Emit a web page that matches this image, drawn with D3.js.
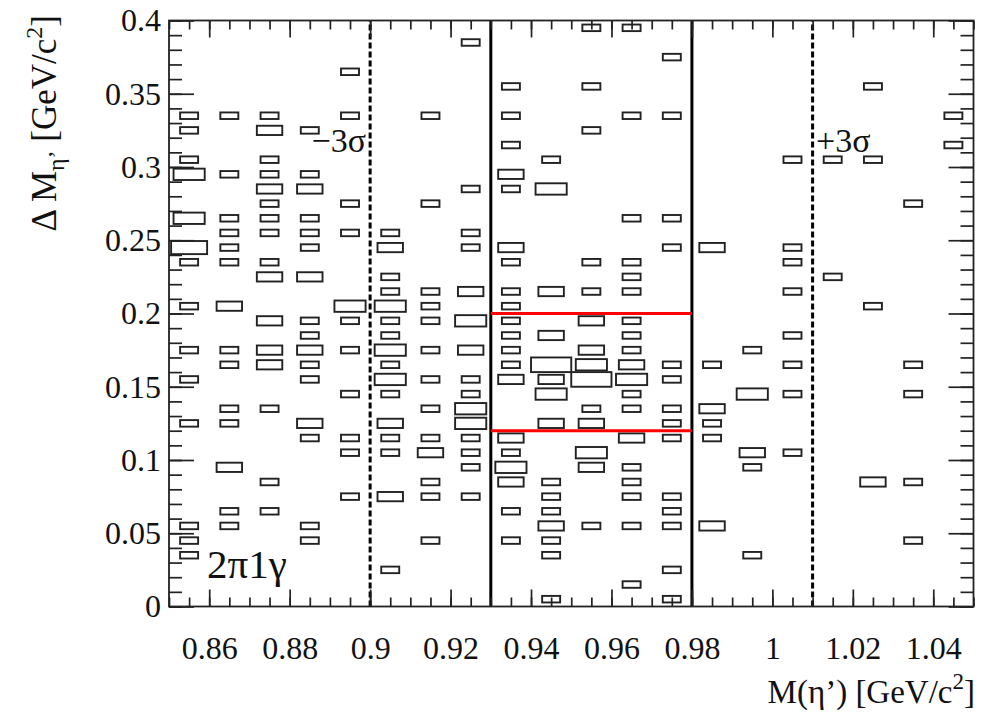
<!DOCTYPE html>
<html>
<head>
<meta charset="utf-8">
<script src="https://cdn.jsdelivr.net/npm/d3@7"></script>
<style>
  body { margin: 0; background: #fff; }
  text { font-family: "Liberation Serif", "Times New Roman", Times, "DejaVu Serif", serif; fill: #111; }
</style>
</head>
<body>
<svg width="992" height="716"></svg>
<script>
// bin contents, [x bin low edge, y bin low edge, entries]
var leftSideband = [
  [0.85,0.33,1],[0.85,0.32,1],[0.85,0.30,1],[0.85,0.29,3],[0.85,0.26,3],[0.85,0.24,4],[0.85,0.23,1],[0.85,0.20,1],[0.85,0.17,1],[0.85,0.15,1],[0.85,0.12,1],[0.85,0.05,1],[0.85,0.04,1],[0.85,0.03,1],
  [0.86,0.33,1],[0.86,0.29,1],[0.86,0.26,1],[0.86,0.25,1],[0.86,0.24,1],[0.86,0.23,1],[0.86,0.20,2],[0.86,0.17,1],[0.86,0.16,1],[0.86,0.13,1],[0.86,0.12,1],[0.86,0.09,2],[0.86,0.06,1],[0.86,0.05,1],
  [0.87,0.33,1],[0.87,0.32,2],[0.87,0.30,1],[0.87,0.29,1],[0.87,0.28,2],[0.87,0.27,1],[0.87,0.26,1],[0.87,0.25,1],[0.87,0.23,1],[0.87,0.22,2],[0.87,0.19,2],[0.87,0.17,2],[0.87,0.16,2],[0.87,0.13,1],[0.87,0.08,1],[0.87,0.06,1],
  [0.88,0.32,1],[0.88,0.29,1],[0.88,0.28,2],[0.88,0.26,1],[0.88,0.25,1],[0.88,0.24,1],[0.88,0.22,2],[0.88,0.19,1],[0.88,0.18,1],[0.88,0.17,2],[0.88,0.16,1],[0.88,0.15,1],[0.88,0.12,2],[0.88,0.11,1],[0.88,0.05,1],[0.88,0.04,1],
  [0.89,0.36,1],[0.89,0.33,1],[0.89,0.27,1],[0.89,0.25,1],[0.89,0.20,3],[0.89,0.19,1],[0.89,0.17,1],[0.89,0.14,1],[0.89,0.11,1],[0.89,0.10,1],[0.89,0.07,1],
  [0.90,0.25,1],[0.90,0.24,2],[0.90,0.22,1],[0.90,0.21,1],[0.90,0.20,3],[0.90,0.19,1],[0.90,0.18,1],[0.90,0.17,3],[0.90,0.16,1],[0.90,0.15,3],[0.90,0.14,1],[0.90,0.12,2],[0.90,0.11,1],[0.90,0.10,1],[0.90,0.07,2],[0.90,0.02,1],
  [0.91,0.33,1],[0.91,0.27,1],[0.91,0.21,1],[0.91,0.20,1],[0.91,0.19,1],[0.91,0.17,1],[0.91,0.15,1],[0.91,0.13,1],[0.91,0.11,1],[0.91,0.10,2],[0.91,0.08,1],[0.91,0.07,1],[0.91,0.04,1],
  [0.92,0.38,1],[0.92,0.28,1],[0.92,0.25,1],[0.92,0.24,1],[0.92,0.21,2],[0.92,0.19,3],[0.92,0.17,2],[0.92,0.15,1],[0.92,0.14,1],[0.92,0.13,3],[0.92,0.12,3],[0.92,0.11,1],[0.92,0.10,1],[0.92,0.09,1],[0.92,0.07,1]
];
var signalRegion = [
  [0.93,0.35,1],[0.93,0.33,1],[0.93,0.31,1],[0.93,0.29,2],[0.93,0.28,1],[0.93,0.24,2],[0.93,0.23,1],[0.93,0.21,1],[0.93,0.20,1],[0.93,0.19,1],[0.93,0.18,1],[0.93,0.17,1],[0.93,0.16,1],[0.93,0.15,2],[0.93,0.11,2],[0.93,0.10,1],[0.93,0.09,3],[0.93,0.08,2],[0.93,0.06,1],[0.93,0.04,1],
  [0.94,0.30,1],[0.94,0.28,3],[0.94,0.21,2],[0.94,0.18,2],[0.94,0.16,5],[0.94,0.15,2],[0.94,0.14,3],[0.94,0.12,2],[0.94,0.08,1],[0.94,0.07,1],[0.94,0.06,1],[0.94,0.05,2],[0.94,0.04,1],[0.94,0.03,1],[0.94,0.00,1],
  [0.95,0.39,1],[0.95,0.35,1],[0.95,0.32,1],[0.95,0.23,1],[0.95,0.21,1],[0.95,0.19,2],[0.95,0.17,2],[0.95,0.16,3],[0.95,0.15,5],[0.95,0.13,1],[0.95,0.12,2],[0.95,0.10,3],[0.95,0.09,2],[0.95,0.05,1],
  [0.96,0.39,1],[0.96,0.33,1],[0.96,0.26,1],[0.96,0.23,1],[0.96,0.22,1],[0.96,0.21,1],[0.96,0.19,1],[0.96,0.18,1],[0.96,0.17,1],[0.96,0.16,2],[0.96,0.15,3],[0.96,0.14,1],[0.96,0.13,1],[0.96,0.11,2],[0.96,0.09,1],[0.96,0.08,1],[0.96,0.07,1],[0.96,0.05,1],[0.96,0.01,1],
  [0.97,0.37,1],[0.97,0.33,1],[0.97,0.26,1],[0.97,0.24,1],[0.97,0.16,1],[0.97,0.15,1],[0.97,0.13,1],[0.97,0.12,1],[0.97,0.11,1],[0.97,0.07,1],[0.97,0.06,1],[0.97,0.05,1],[0.97,0.02,1],[0.97,0.00,1]
];
var rightSideband = [
  [0.98,0.24,2],[0.98,0.16,1],[0.98,0.13,2],[0.98,0.12,1],[0.98,0.11,1],[0.98,0.05,2],
  [0.99,0.17,1],[0.99,0.14,3],[0.99,0.10,2],[0.99,0.09,1],[0.99,0.03,1],
  [1.00,0.30,1],[1.00,0.24,1],[1.00,0.23,1],[1.00,0.21,1],[1.00,0.18,1],[1.00,0.16,1],[1.00,0.14,1],[1.00,0.10,1],
  [1.01,0.30,1],[1.01,0.22,1],
  [1.02,0.35,1],[1.02,0.30,1],[1.02,0.20,1],[1.02,0.08,2],
  [1.03,0.27,1],[1.03,0.16,1],[1.03,0.14,1],[1.03,0.08,1],[1.03,0.04,1],
  [1.04,0.33,1],[1.04,0.31,1]
];
var binW = 0.01, binH = 0.01;

var xTicks = [0.86, 0.88, 0.90, 0.92, 0.94, 0.96, 0.98, 1.00, 1.02, 1.04];
var xTickLabels = ["0.86", "0.88", "0.9", "0.92", "0.94", "0.96", "0.98", "1", "1.02", "1.04"];
var yTicks = [0, 0.05, 0.10, 0.15, 0.20, 0.25, 0.30, 0.35, 0.40];
var yTickLabels = ["0", "0.05", "0.1", "0.15", "0.2", "0.25", "0.3", "0.35", "0.4"];

var sigmaCuts = [0.90, 1.01];     // dashed, -3 sigma / +3 sigma
var signalCuts = [0.93, 0.98];    // solid
var dmCuts = [0.12, 0.20];        // red

var svg = d3.select("svg"),
    frame = {left: 169, right: 973.5, top: 20.5, bottom: 606.5};

var x = d3.scaleLinear().domain([0.85, 1.05]).range([frame.left, frame.right]),
    y = d3.scaleLinear().domain([0, 0.4]).range([frame.bottom, frame.top]);

var cells = leftSideband.concat(signalRegion, rightSideband);
var zmax = d3.max(cells, function(d) { return d[2]; });

// boxes (ROOT "box" option), side ~ sqrt(content/max)
svg.append("g").selectAll("rect")
  .data(cells)
  .enter().append("rect")
    .each(function(d) {
      var f = Math.sqrt(d[2] / zmax),
          w = (x(d[0] + binW) - x(d[0])) * f,
          h = (y(d[1]) - y(d[1] + binH)) * f;
      d3.select(this)
        .attr("x", x(d[0] + binW / 2) - w / 2)
        .attr("y", y(d[1] + binH / 2) - h / 2)
        .attr("width", w)
        .attr("height", h);
    })
    .attr("fill", "none")
    .attr("stroke", "#222")
    .attr("stroke-width", 1.9);

// cut lines
svg.append("g").selectAll("line")
  .data(sigmaCuts)
  .enter().append("line")
    .attr("x1", function(d) { return x(d); })
    .attr("x2", function(d) { return x(d); })
    .attr("y1", y(0)).attr("y2", y(0.4))
    .attr("stroke", "#000").attr("stroke-width", 3)
    .attr("stroke-dasharray", "6,3");

svg.append("g").selectAll("line")
  .data(signalCuts)
  .enter().append("line")
    .attr("x1", function(d) { return x(d); })
    .attr("x2", function(d) { return x(d); })
    .attr("y1", y(0)).attr("y2", y(0.4))
    .attr("stroke", "#000").attr("stroke-width", 3);

svg.append("g").selectAll("line")
  .data(dmCuts)
  .enter().append("line")
    .attr("x1", x(signalCuts[0])).attr("x2", x(signalCuts[1]))
    .attr("y1", function(d) { return y(d); })
    .attr("y2", function(d) { return y(d); })
    .attr("stroke", "#ff0000").attr("stroke-width", 3);

// axes, ticks inside the frame
var xMinor = d3.range(0.85, 1.0501, 0.005),
    yMinor = d3.range(0, 0.4001, 0.01);

function styleAxis(g) {
  g.select(".domain").remove();
  g.selectAll("line").attr("stroke", "#222").attr("stroke-width", 1.7);
  g.selectAll("text").style("font-size", "32px").attr("fill", "#111");
}

svg.append("g").attr("transform", "translate(0," + frame.bottom + ")")
  .call(d3.axisBottom(x).tickValues(xMinor).tickSize(-9).tickFormat(""))
  .call(styleAxis);
svg.append("g").attr("transform", "translate(0," + frame.bottom + ")")
  .call(d3.axisBottom(x).tickValues(xTicks).tickSize(-17).tickPadding(30)
    .tickFormat(function(d, i) { return xTickLabels[i]; }))
  .call(styleAxis);
svg.append("g").attr("transform", "translate(0," + frame.top + ")")
  .call(d3.axisTop(x).tickValues(xMinor).tickSize(-9).tickFormat(""))
  .call(styleAxis);
svg.append("g").attr("transform", "translate(0," + frame.top + ")")
  .call(d3.axisTop(x).tickValues(xTicks).tickSize(-17).tickFormat(""))
  .call(styleAxis);

svg.append("g").attr("transform", "translate(" + frame.left + ",0)")
  .call(d3.axisLeft(y).tickValues(yMinor).tickSize(-13).tickFormat(""))
  .call(styleAxis);
svg.append("g").attr("transform", "translate(" + frame.left + ",0)")
  .call(d3.axisLeft(y).tickValues(yTicks).tickSize(-25).tickPadding(8)
    .tickFormat(function(d, i) { return yTickLabels[i]; }))
  .call(styleAxis);
svg.append("g").attr("transform", "translate(" + frame.right + ",0)")
  .call(d3.axisRight(y).tickValues(yMinor).tickSize(-13).tickFormat(""))
  .call(styleAxis);
svg.append("g").attr("transform", "translate(" + frame.right + ",0)")
  .call(d3.axisRight(y).tickValues(yTicks).tickSize(-25).tickFormat(""))
  .call(styleAxis);

// frame
svg.append("rect")
  .attr("x", frame.left).attr("y", frame.top)
  .attr("width", frame.right - frame.left).attr("height", frame.bottom - frame.top)
  .attr("fill", "none").attr("stroke", "#222").attr("stroke-width", 1.8);

// axis titles
var xt = svg.append("text")
  .attr("x", 975).attr("y", 703)
  .attr("text-anchor", "end")
  .style("font-size", "33px");
xt.append("tspan").text("M(\u03b7\u2019) [GeV/c");
xt.append("tspan").attr("dy", -14).style("font-size", "23px").text("2");
xt.append("tspan").attr("dy", 14).text("]");

var yt = svg.append("text")
  .attr("transform", "translate(56,15) rotate(-90)")
  .attr("text-anchor", "end")
  .style("font-size", "35px");
yt.append("tspan").text("\u0394 M");
yt.append("tspan").attr("dy", 8).style("font-size", "24px").text("\u03b7\u2019");
yt.append("tspan").attr("dy", -8).text(" [GeV/c");
yt.append("tspan").attr("dy", -14).style("font-size", "24px").text("2");
yt.append("tspan").attr("dy", 14).text("]");

// annotations
svg.append("text").attr("x", 366).attr("y", 152).attr("text-anchor", "end")
  .style("font-size", "34px").text("\u22123\u03c3");
svg.append("text").attr("x", 816).attr("y", 152)
  .style("font-size", "34px").text("+3\u03c3");
svg.append("text").attr("x", 207).attr("y", 578)
  .style("font-size", "41px").text("2\u03c01\u03b3");
</script>
</body>
</html>
